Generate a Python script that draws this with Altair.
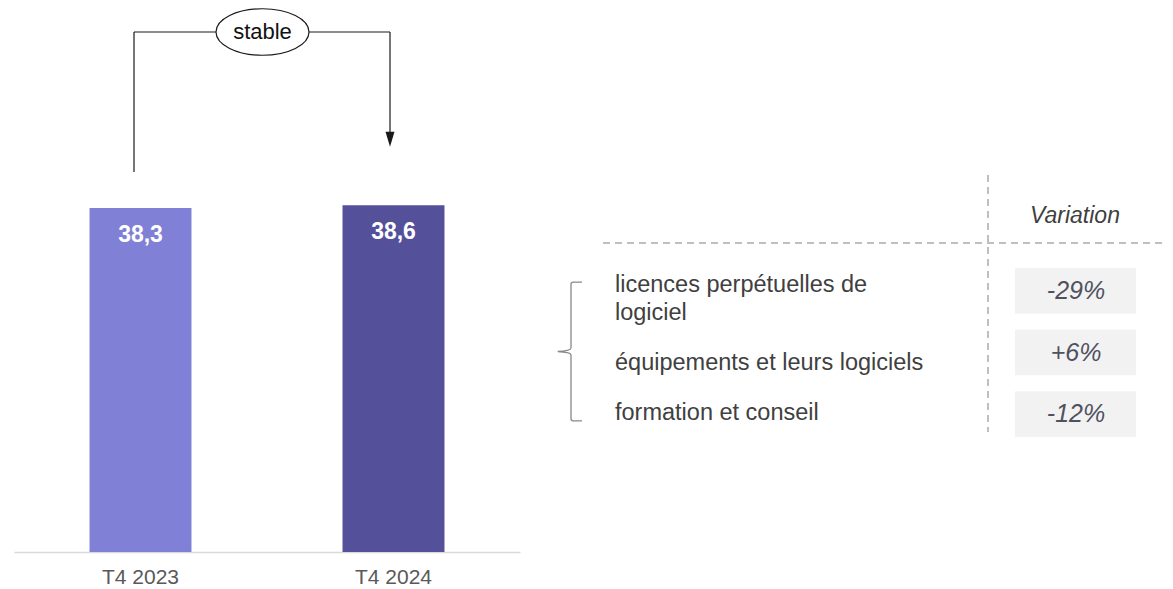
import altair as alt
import pandas as pd

# ---- data ----
periods = ["T4 2023", "T4 2024"]
revenues = [38.3, 38.6]
revenue_labels = ["38,3", "38,6"]
bar_colors = ["#8080d6", "#54509a"]

segment_keys = ["r1", "r2", "r3"]
segments = ["licences perpétuelles de\nlogiciel", "équipements et leurs logiciels", "formation et conseil"]
variations = ["-29%", "+6%", "-12%"]
variation_header = ["Variation"]
change_label = ["stable"]

FONT = "Liberation Sans"
label_shift = [-6, 10, -1]  # per-row vertical text offset (layout only)

bars_df = pd.DataFrame({"period": periods, "value": revenues, "label": revenue_labels, "color": bar_colors})
tab_df = pd.DataFrame({"row": segment_keys, "segment": segments, "variation": variations})
one = pd.DataFrame({"k": [0]})

# ---- bars ----
x_enc = alt.X(
    "period:N", sort=periods,
    scale=alt.Scale(domain=periods, range=[6, 512], paddingInner=0.597, paddingOuter=0.2985),
    axis=alt.Axis(title=None, ticks=False, domainColor="#d9d9d9", domainWidth=1.5,
                  labelColor="#595959", labelFontSize=21, labelFont=FONT, labelPadding=14, labelAngle=0),
)
y_enc = alt.Y("value:Q", scale=alt.Scale(domain=[0, 60.57], nice=False, zero=True), axis=None)

bars = alt.Chart(bars_df).mark_bar().encode(
    x=x_enc, y=y_enc, color=alt.Color("color:N", scale=None)
)
bar_text = alt.Chart(bars_df).mark_text(
    font=FONT, fontSize=23, fontWeight="bold", color="white", baseline="middle", dy=27
).encode(x=x_enc, y=y_enc, text="label:N")
bar_layer = alt.layer(bars, bar_text)

# ---- table ----
row_y = alt.Y("row:N", sort=segment_keys,
              scale=alt.Scale(domain=segment_keys, range=[260, 429], paddingInner=0.26, paddingOuter=0),
              axis=None)
boxes = alt.Chart(tab_df).mark_rect(color="#f2f2f2").encode(
    y=row_y, x=alt.value(1007), x2=alt.value(1128)
)
values = alt.Chart(tab_df).mark_text(
    font=FONT, fontSize=25, fontStyle="italic", color="#50505f", baseline="middle", align="center"
).encode(y=row_y, x=alt.value(1068), text="variation:N")
label_layers = [
    alt.Chart(tab_df).transform_filter(alt.datum.row == key).mark_text(
        font=FONT, fontSize=23.5, color="#404040", baseline="middle", align="left",
        lineBreak="\n", lineHeight=28, dy=shift
    ).encode(y=row_y, x=alt.value(607), text="segment:N")
    for key, shift in zip(segment_keys, label_shift)
]
table_layer = alt.layer(boxes, values, *label_layers)

header = alt.Chart(pd.DataFrame({"t": variation_header})).mark_text(
    font=FONT, fontSize=23, fontStyle="italic", color="#404040", baseline="middle", align="center"
).encode(x=alt.value(1067), y=alt.value(208), text="t:N")

vdash = alt.Chart(one).mark_rule(strokeDash=[7, 5], color="#808080", strokeWidth=1).encode(
    x=alt.value(980), y=alt.value(167), y2=alt.value(424)
)
hdash = alt.Chart(one).mark_rule(strokeDash=[7, 5], color="#808080", strokeWidth=1).encode(
    x=alt.value(595), x2=alt.value(1157), y=alt.value(235)
)

brace_path = ("M0.157,-0.99 L0.03,-0.99 Q0,-0.99 0,-0.96 L0,-0.05 Q0,-0.01 -0.19,0 "
              "Q0,0.01 0,0.05 L0,0.96 Q0,0.99 0.03,0.99 L0.157,0.99")
brace = alt.Chart(one).mark_point(
    shape=brace_path, size=19600, filled=False, stroke="#888888", strokeWidth=1.3, opacity=1
).encode(x=alt.value(563), y=alt.value(343.5))

# ---- change annotation ----
LINE = "#1a1a1a"
left_v = alt.Chart(one).mark_rule(color=LINE, strokeWidth=1.2).encode(
    x=alt.value(126), y=alt.value(24), y2=alt.value(164)
)
top_h = alt.Chart(one).mark_rule(color=LINE, strokeWidth=1.2).encode(
    x=alt.value(126), x2=alt.value(382), y=alt.value(24)
)
right_v = alt.Chart(one).mark_rule(color=LINE, strokeWidth=1.2).encode(
    x=alt.value(382), y=alt.value(24), y2=alt.value(126)
)
arrow = alt.Chart(one).mark_point(
    shape="M-0.6,-1L0.6,-1L0,1Z", size=225, filled=True, color=LINE, opacity=1
).encode(x=alt.value(382), y=alt.value(131.2))

ry = 0.5
ky = round(ry * 0.5523, 3)
ellipse_path = (f"M-1,0 C-1,-{ky} -0.5523,-{ry} 0,-{ry} C0.5523,-{ry} 1,-{ky} 1,0 "
                f"C1,{ky} 0.5523,{ry} 0,{ry} C-0.5523,{ry} -1,{ky} -1,0 Z")
ellipse = alt.Chart(one).mark_point(
    shape=ellipse_path, size=8649, filled=True, fill="white", stroke=LINE, strokeWidth=1.2, opacity=1
).encode(x=alt.value(254.5), y=alt.value(24))
stable_text = alt.Chart(pd.DataFrame({"t": change_label})).mark_text(
    font=FONT, fontSize=22, color="#111111", baseline="middle", align="center"
).encode(x=alt.value(254.5), y=alt.value(24), text="t:N")

chart = alt.layer(
    bar_layer, table_layer, header, vdash, hdash, brace,
    left_v, top_h, right_v, arrow, ellipse, stable_text
).resolve_scale(
    x="independent", y="independent"
).properties(
    width=1157, height=544,
    padding={"left": 0, "top": 0, "right": 0, "bottom": 34},
    autosize=alt.AutoSizeParams(type="none"),
).configure_view(stroke=None)

chart.save("out.html", embed_options={"renderer": "svg", "actions": False})
